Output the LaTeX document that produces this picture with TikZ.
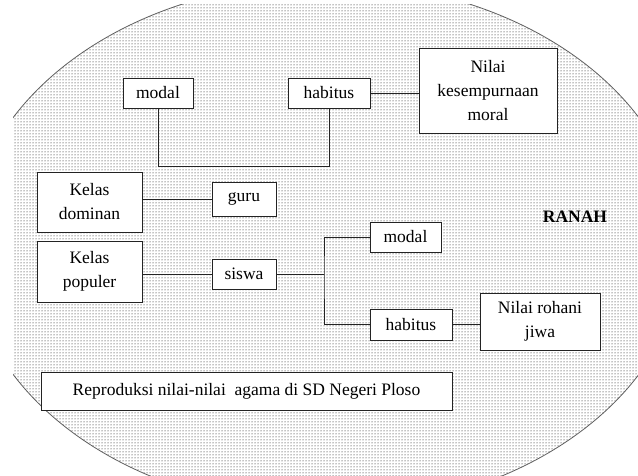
\documentclass[tikz,border=0pt]{standalone}
\usepackage{fontspec}
\setmainfont{Liberation Serif}
\usepackage{tikz}
\usetikzlibrary{patterns}
\definecolor{rimcolor}{RGB}{95,95,95}
\definecolor{boxline}{RGB}{35,35,35}

\begin{document}
\begin{tikzpicture}[x=1pt, y=-1pt,
    box/.style={draw=boxline, line width=0.8pt, fill=white, inner sep=0pt, outer sep=0pt,
      align=center, font=\fontsize{17.5}{24}\selectfont},
    link/.style={boxline, line width=0.8pt}]
    \useasboundingbox (0,0) rectangle (638,476);
    % ranah (dotted field)
    \begin{scope}
      \clip (13,5) rectangle (638,476);
      \draw[rimcolor, line width=0.8pt, pattern=dots] (326,246) ellipse [x radius=358, y radius=264];
    \end{scope}
    \node[font=\fontsize{17.5}{24}\selectfont\bfseries] (ranah) at (575,217) {RANAH};
    % top row
    \node[box, minimum width=70, minimum height=30] (modalA) at (158,93) {modal};
    \node[box, minimum width=82, minimum height=30] (habA) at (329,93) {habitus};
    \node[box, minimum width=138, minimum height=85] (moral) at (488,90.5) {Nilai\\kesempurnaan\\moral};
    \draw[link] (modalA.south) -- ++(0,58) -| (habA.south);
    \draw[link] (habA.east) -- (habA.east -| moral.west);
    % kelas
    \node[box, minimum width=105, minimum height=60] (dominan) at (89.5,202) {Kelas\\dominan};
    \node[box, minimum width=64, minimum height=34] (guru) at (244,199) {guru};
    \node[box, minimum width=105, minimum height=61] (populer) at (89.5,271.5) {Kelas\\populer};
    \node[box, minimum width=64, minimum height=30] (siswa) at (244,274) {siswa};
    \draw[link] (guru.west -| dominan.east) -- (guru.west);
    \draw[link] (siswa.west -| populer.east) -- (siswa.west);
    % siswa branch
    \node[box, minimum width=71, minimum height=30] (modalB) at (405.5,237) {modal};
    \node[box, minimum width=82, minimum height=31] (habB) at (411,324.5) {habitus};
    \node[box, minimum width=120, minimum height=57] (rohani) at (540,321.5) {Nilai rohani\\jiwa};
    \coordinate (fork) at (324,274);
    \draw[link] (siswa.east) -- (fork);
    \draw[link] (modalB.west) -| (fork) |- (habB.west);
    \draw[link] (habB.east) -- (habB.east -| rohani.west);
    % caption box
    \node[box, minimum width=411, minimum height=38] (repro) at (246.5,391) {Reproduksi nilai-nilai\ \ agama di SD Negeri Ploso};
\end{tikzpicture}
\end{document}
